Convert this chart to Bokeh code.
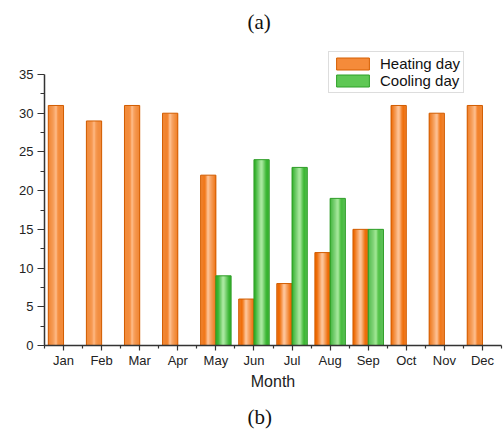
from bokeh.plotting import figure
from bokeh.models import (ColumnDataSource, FixedTicker, Range1d, Legend, LegendItem, Title)
from bokeh.embed import file_html
from bokeh.resources import INLINE

months = ["Jan", "Feb", "Mar", "Apr", "May", "Jun", "Jul", "Aug", "Sep", "Oct", "Nov", "Dec"]
heating = [31, 29, 31, 30, 22, 6, 8, 12, 15, 31, 30, 31]
cooling = [0, 0, 0, 0, 9, 24, 23, 19, 15, 0, 0, 0]
y_ticks = [0, 5, 10, 15, 20, 25, 30, 35]

FONT = "Liberation Sans"
BAR_W = 0.4
N_STRIPS = 14

orange_edge = (238, 104, 0)
orange_mid = (255, 192, 144)
green_edge = (52, 178, 44)
green_mid = (160, 234, 146)


def lerp(c1, c2, t):
    return "#%02x%02x%02x" % tuple(int(round(a + (b - a) * t)) for a, b in zip(c1, c2))


FRAME_TOP = 40
PX_PER_UNIT = (345 - 74) / 35.0
Y_END = (345 - FRAME_TOP) / PX_PER_UNIT

p = figure(width=504, height=439, output_backend="svg", toolbar_location=None,
           x_range=Range1d(0.5, 12.5), y_range=Range1d(0, Y_END),
           min_border_left=44, min_border_right=3, min_border_top=FRAME_TOP, min_border_bottom=94)
p.outline_line_color = None
p.grid.visible = False
p.background_fill_color = "white"
p.border_fill_color = "white"

xs = list(range(1, len(months) + 1))


def gradient_bars(vals, side, edge, mid):
    centers = [x + side * BAR_W / 2 for x in xs]
    sw = BAR_W / N_STRIPS
    for k in range(N_STRIPS):
        u = ((k + 0.5) / N_STRIPS) * 2 - 1
        t = (1 - abs(u)) ** 2.4
        col = lerp(edge, mid, t)
        off = -BAR_W / 2 + (k + 0.5) * sw
        src = ColumnDataSource(dict(x=[c + off for c in centers], top=vals))
        p.vbar(x="x", top="top", width=sw * 1.03, bottom=0, source=src,
               fill_color=col, line_color=None)
    src = ColumnDataSource(dict(x=centers, top=vals))
    p.vbar(x="x", top="top", width=BAR_W, bottom=0, source=src,
           fill_alpha=0, line_color=lerp(edge, (0, 0, 0), 0.12), line_width=1)


gradient_bars(heating, -1, orange_edge, orange_mid)
gradient_bars(cooling, 1, green_edge, green_mid)

# legend swatch renderers (placed outside the visible x range)
dummy_h = ColumnDataSource(dict(x=[-10], top=[1]))
dummy_c = ColumnDataSource(dict(x=[-10], top=[1]))
r_h = p.vbar(x="x", top="top", width=0.4, source=dummy_h,
             fill_color=lerp(orange_edge, orange_mid, 0.4), line_color=lerp(orange_edge, (0, 0, 0), 0.1))
r_c = p.vbar(x="x", top="top", width=0.4, source=dummy_c,
             fill_color=lerp(green_edge, green_mid, 0.4), line_color=lerp(green_edge, (0, 0, 0), 0.1))

legend = Legend(items=[LegendItem(label="Heating day", renderers=[r_h]),
                       LegendItem(label="Cooling day", renderers=[r_c])],
                location=(284, 252))
legend.label_text_font = FONT
legend.label_text_font_size = "15px"
legend.label_text_color = "#111111"
legend.glyph_width = 41
legend.glyph_height = 15
legend.label_height = 15
legend.spacing = 0
legend.padding = 3
legend.margin = 0
legend.label_standoff = 7
legend.border_line_color = "#bbbbbb"
legend.border_line_width = 1
legend.background_fill_alpha = 1
p.add_layout(legend, "center")

# axes
for ax in (p.xaxis[0], p.yaxis[0]):
    ax.axis_line_color = "#333333"
    ax.axis_line_width = 1.5
    ax.major_tick_line_color = "#333333"
    ax.minor_tick_line_color = "#333333"
    ax.major_tick_line_width = 1.2
    ax.minor_tick_line_width = 1.2
    ax.major_tick_in = 0
    ax.minor_tick_in = 0
    ax.major_label_text_font = FONT
    ax.major_label_text_font_size = "13px"
    ax.major_label_text_color = "#222222"

p.xaxis.major_tick_out = 5
p.xaxis.minor_tick_out = 3
p.yaxis.major_tick_out = 7
p.yaxis.minor_tick_out = 4

p.xaxis.ticker = FixedTicker(ticks=xs, minor_ticks=[x + 0.5 for x in range(0, 13)])
p.xaxis.major_label_overrides = {x: m for x, m in zip(xs, months)}
p.xaxis.axis_label = "Month"
p.xaxis.axis_label_text_font = FONT
p.xaxis.axis_label_text_font_style = "normal"
p.xaxis.axis_label_text_font_size = "16px"
p.xaxis.axis_label_text_color = "#222222"
p.xaxis.axis_label_standoff = 2
p.xaxis.major_label_standoff = 2

p.yaxis.ticker = FixedTicker(ticks=y_ticks, minor_ticks=[v + 2.5 for v in y_ticks[:-1]])
p.yaxis.bounds = (0, 35)
p.yaxis.major_label_standoff = 4

p.add_layout(Title(text="(a)", align="left", offset=203, text_font="Liberation Serif",
                   text_font_size="21px", text_font_style="normal", text_color="#111111",
                   standoff=14), "above")
p.add_layout(Title(text="(b)", align="left", offset=203, text_font="Liberation Serif",
                   text_font_size="21px", text_font_style="normal", text_color="#111111",
                   standoff=21), "below")

open("out.html", "w").write(file_html(p, INLINE))
